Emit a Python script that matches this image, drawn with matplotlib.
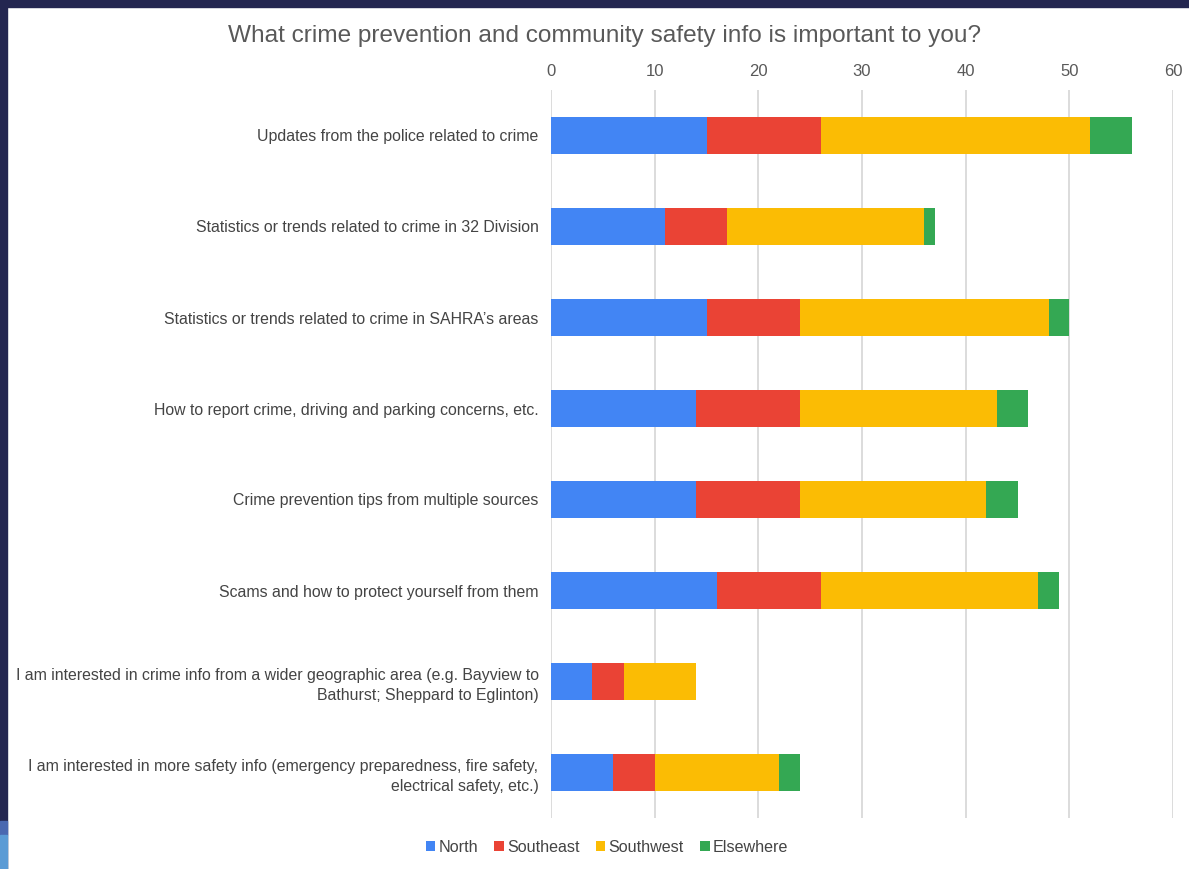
import numpy as np
import matplotlib
matplotlib.use("Agg")
import matplotlib.pyplot as plt
from matplotlib.patches import Rectangle

plt.rcParams['font.family'] = ['Liberation Sans', 'DejaVu Sans']

# survey answers, top row first
questions = [
    "Updates from the police related to crime",
    "Statistics or trends related to crime in 32 Division",
    "Statistics or trends related to crime in SAHRA\u2019s areas",
    "How to report crime, driving and parking concerns, etc.",
    "Crime prevention tips from multiple sources",
    "Scams and how to protect yourself from them",
    "I am interested in crime info from a wider geographic area (e.g. Bayview to\nBathurst; Sheppard to Eglinton)",
    "I am interested in more safety info (emergency preparedness, fire safety,\nelectrical safety, etc.)",
]
north = [15, 11, 15, 14, 14, 16, 4, 6]
southeast = [11, 6, 9, 10, 10, 10, 3, 4]
southwest = [26, 19, 24, 19, 18, 21, 7, 12]
elsewhere = [4, 1, 2, 3, 3, 2, 0, 2]

series = ["North", "Southeast", "Southwest", "Elsewhere"]
colors = ["#4285f4", "#ea4335", "#fbbc04", "#34a853"]

fig = plt.figure(figsize=(11.89, 8.69), dpi=100)
fig.patch.set_facecolor("white")

# dark frame from the screenshot
fig.patches.append(Rectangle((0, 1 - 7/869), 1, 7/869, transform=fig.transFigure, color="#232650", zorder=0))
fig.patches.append(Rectangle((0, 0), 7/1189, 1, transform=fig.transFigure, color="#232650", zorder=0))
fig.patches.append(Rectangle((0, 34/869), 7/1189, 14/869, transform=fig.transFigure, color="#4a68b0", zorder=1))
fig.patches.append(Rectangle((0, 0), 7/1189, 34/869, transform=fig.transFigure, color="#5b9bd5", zorder=1))

ax = fig.add_axes([551/1189, 51/869, 622/1189, 728/869])

y = np.arange(len(questions))
left = np.zeros(len(questions))
for name, vals, c in zip(series, [north, southeast, southwest, elsewhere], colors):
    ax.barh(y, vals, left=left, height=0.41, color=c, label=name, zorder=3)
    left = left + np.array(vals)

ax.set_ylim(len(questions) - 0.5, -0.5)
ax.set_xlim(0, 60)
ax.set_xticks(np.arange(0, 61, 10))
ax.xaxis.tick_top()
ax.tick_params(axis="x", length=0, pad=8, labelsize=12, labelcolor="#595959")
ax.tick_params(axis="y", length=0, pad=9, labelsize=11.4, labelcolor="#444444")
ax.set_yticks(y)
ax.set_yticklabels(questions, ha="right", linespacing=1.45)
ax.grid(axis="x", color="#d9d9d9", linewidth=1.3, zorder=0)
for s in ax.spines.values():
    s.set_visible(False)

fig.text(604/1189, 1 - 36/869, "What crime prevention and community safety info is important to you?",
         ha="center", va="center", fontsize=17.6, color="#595959")

fig.legend(loc="center", bbox_to_anchor=(607/1189, 1 - 847/869), ncol=4, frameon=False,
           fontsize=11.6, handlelength=0.6, handleheight=0.6, handletextpad=0.2,
           columnspacing=1.0, labelcolor="#444444")

fig.savefig("out.png", dpi=100, facecolor="white")
